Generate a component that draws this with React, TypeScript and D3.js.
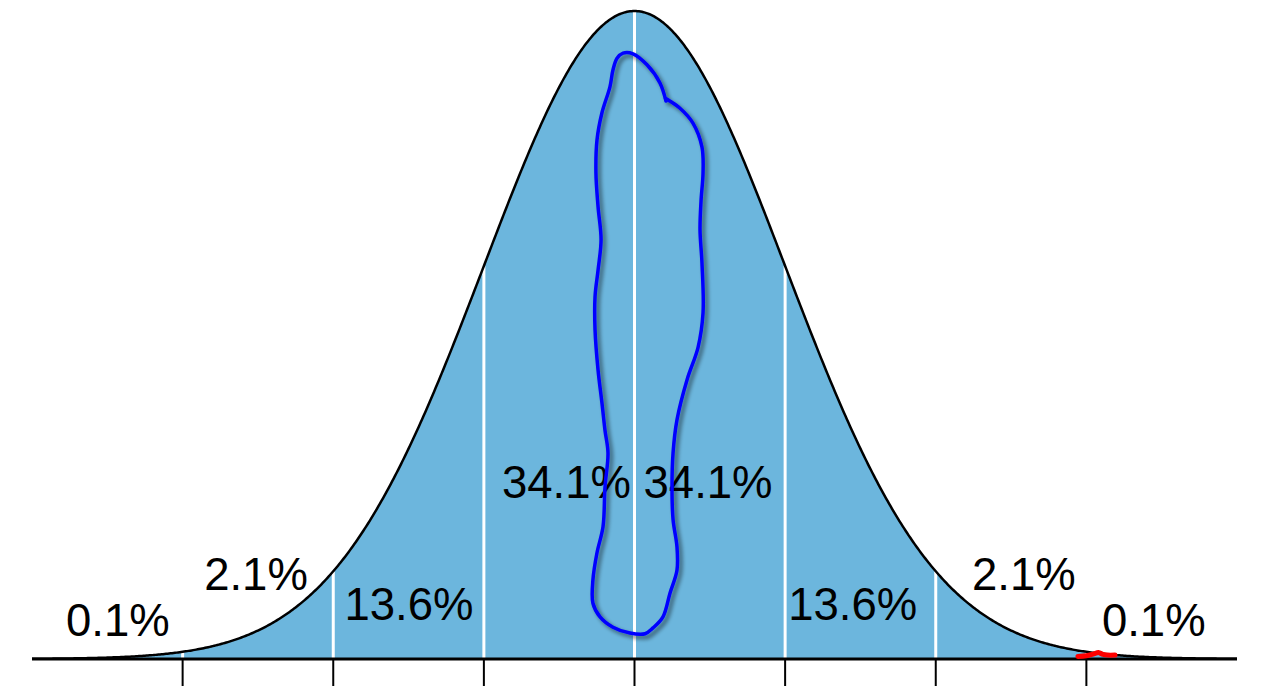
import React from "react";
import * as d3 from "d3";

const W = 1261;
const H = 694;

// sigma positions of the band boundaries / ticks
const sigmaTicks = [-3, -2, -1, 0, 1, 2, 3];
// x-domain of the curve in sigma units
const xDomain = [-4, 4];

// percentage labels: text, x (sigma, left edge), y (fraction of peak height, baseline)
const labelTexts = ["0.1%", "2.1%", "13.6%", "34.1%", "34.1%", "13.6%", "2.1%", "0.1%"];
const labelX = [-3.774, -2.857, -1.926, -0.880, 0.060, 1.020, 2.241, 3.103];
const labelY = [0.036, 0.107, 0.060, 0.248, 0.248, 0.060, 0.107, 0.036];

// hand-drawn annotation loop (sigma, fraction of peak height)
const loopX = [0.209, 0.169, 0.083, -0.010, -0.076, -0.116, -0.143, -0.163, -0.216, -0.249, -0.256, -0.242, -0.222, -0.242, -0.262, -0.262, -0.242, -0.216, -0.196, -0.176, -0.196, -0.209, -0.249, -0.276, -0.276, -0.229, -0.143, -0.030, 0.070, 0.123, 0.189, 0.236, 0.282, 0.282, 0.256, 0.249, 0.256, 0.282, 0.349, 0.422, 0.455, 0.448, 0.435, 0.442, 0.455, 0.448, 0.388, 0.302, 0.222, 0.203];
const loopY = [0.861, 0.889, 0.917, 0.934, 0.935, 0.927, 0.909, 0.883, 0.843, 0.801, 0.750, 0.698, 0.647, 0.600, 0.559, 0.508, 0.446, 0.395, 0.353, 0.318, 0.265, 0.204, 0.164, 0.122, 0.086, 0.065, 0.049, 0.040, 0.039, 0.048, 0.065, 0.102, 0.137, 0.173, 0.215, 0.265, 0.318, 0.369, 0.431, 0.481, 0.534, 0.611, 0.662, 0.708, 0.750, 0.790, 0.827, 0.850, 0.863, 0.866];

// small red mark near +3 sigma
const redX = [2.944, 3.000, 3.050, 3.080, 3.110, 3.140, 3.190];
const redY = [0.004, 0.005, 0.008, 0.010, 0.007, 0.006, 0.006];

const pdf = (x: number) => Math.exp(-0.5 * x * x) / Math.sqrt(2 * Math.PI);
const peak = pdf(0);

export default function App() {
  const x = d3.scaleLinear().domain(xDomain).range([32, 1237]);
  const y = d3.scaleLinear().domain([0, peak]).range([659, 11]);

  const samples = d3.range(xDomain[0], xDomain[1] + 1e-9, 0.01);
  const area = d3
    .area<number>()
    .x((d) => x(d))
    .y0(y(0))
    .y1((d) => y(pdf(d)));
  const line = d3
    .line<number>()
    .x((d) => x(d))
    .y((d) => y(pdf(d)));

  const loopPts: [number, number][] = loopX.map((v, i) => [x(v), y(loopY[i] * peak)]);
  const loopPath = d3.line().curve(d3.curveCatmullRom.alpha(0.5))(loopPts) || "";
  const redPts: [number, number][] = redX.map((v, i) => [x(v), y(redY[i] * peak)]);
  const redPath = d3.line().curve(d3.curveCatmullRom.alpha(0.5))(redPts) || "";

  return (
    <div style={{ position: "absolute", left: 0, top: 0 }}>
      <svg width={W} height={H} style={{ display: "block", background: "#fff" }}>
        <defs>
          <filter id="shadow" x="-20%" y="-20%" width="140%" height="140%">
            <feGaussianBlur in="SourceAlpha" stdDeviation="2" />
            <feOffset dx="3" dy="3" result="ob" />
            <feComponentTransfer>
              <feFuncA type="linear" slope="0.55" />
            </feComponentTransfer>
            <feMerge>
              <feMergeNode />
              <feMergeNode in="SourceGraphic" />
            </feMerge>
          </filter>
        </defs>
        <path d={area(samples) || ""} fill="#6cb6dd" />
        {sigmaTicks.map((s) => (
          <line
            key={"w" + s}
            x1={x(s)}
            x2={x(s)}
            y1={y(0)}
            y2={y(pdf(s))}
            stroke="#fff"
            strokeWidth={3}
          />
        ))}
        <path d={line(samples) || ""} fill="none" stroke="#000" strokeWidth={2.5} />
        <line x1={x(xDomain[0])} x2={x(xDomain[1])} y1={y(0)} y2={y(0)} stroke="#000" strokeWidth={3} />
        {sigmaTicks.map((s) => (
          <line
            key={"t" + s}
            x1={x(s)}
            x2={x(s)}
            y1={y(0)}
            y2={y(0) + 27}
            stroke="#000"
            strokeWidth={2}
          />
        ))}
        {labelTexts.map((t, i) => (
          <text
            key={"l" + i}
            x={x(labelX[i])}
            y={y(labelY[i] * peak)}
            fontFamily="'Liberation Sans', Arial, sans-serif"
            fontSize={45.5}
            fill="#000"
          >
            {t}
          </text>
        ))}
        <path d={loopPath} fill="none" stroke="#0000ff" strokeWidth={3.5} strokeLinecap="round" strokeLinejoin="round" filter="url(#shadow)" />
        <path d={redPath} fill="none" stroke="#ff0000" strokeWidth={5} strokeLinecap="round" strokeLinejoin="round" />
      </svg>
    </div>
  );
}
